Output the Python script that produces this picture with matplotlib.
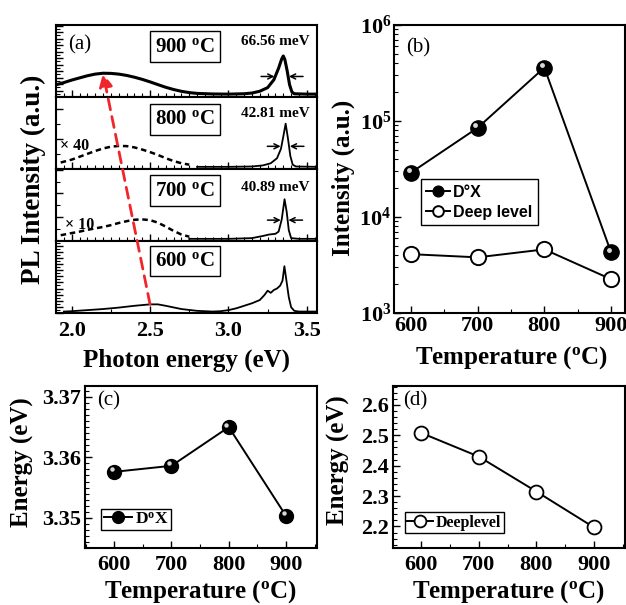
import numpy as np
import matplotlib
matplotlib.use('Agg')
import matplotlib.pyplot as plt
from matplotlib.ticker import MultipleLocator, LogLocator, LogFormatterMathtext, NullFormatter, FormatStrFormatter
from matplotlib.patches import ConnectionPatch
from matplotlib.transforms import offset_copy

plt.rcParams['font.family'] = ['Liberation Serif', 'DejaVu Serif']
plt.rcParams['font.weight'] = 'bold'
plt.rcParams['mathtext.fontset'] = 'custom'
plt.rcParams['mathtext.rm'] = 'Liberation Serif:bold'
plt.rcParams['mathtext.bf'] = 'Liberation Serif:bold'
plt.rcParams['mathtext.it'] = 'Liberation Serif:bold:italic'
plt.rcParams['axes.linewidth'] = 1.5

# ---------------- data ----------------
temps = [600, 700, 800, 900]
temp_labels = ['900 $^{\\mathrm{o}}$C', '800 $^{\\mathrm{o}}$C', '700 $^{\\mathrm{o}}$C', '600 $^{\\mathrm{o}}$C']
fwhm_labels = ['66.56 meV', '42.81 meV', '40.89 meV']
scale_labels = ['\u00d7 40', '\u00d7 10']

intensity_dox = [2.9e4, 8.5e4, 3.6e5, 4.3e3]
intensity_deep = [4.1e3, 3.8e3, 4.6e3, 2.25e3]
energy_dox = [3.3576, 3.3586, 3.3650, 3.3503]
energy_deep = [2.508, 2.430, 2.315, 2.197]

# PL spectra (normalised panel units)
E900 = [1.90, 1.95, 2.00, 2.05, 2.10, 2.15, 2.20, 2.25, 2.30, 2.35, 2.40, 2.45, 2.50, 2.55,
        2.60, 2.65, 2.70, 2.75, 2.80, 2.90, 3.00, 3.10, 3.15, 3.20, 3.25, 3.29, 3.32, 3.34,
        3.35, 3.36, 3.375, 3.39, 3.405, 3.42, 3.50, 3.565]
I900 = [0.17, 0.20, 0.235, 0.265, 0.295, 0.318, 0.33, 0.328, 0.318, 0.30, 0.275, 0.245, 0.21, 0.172,
        0.135, 0.104, 0.079, 0.061, 0.05, 0.042, 0.04, 0.045, 0.055, 0.08, 0.13, 0.24, 0.40, 0.53,
        0.57, 0.52, 0.36, 0.17, 0.07, 0.045, 0.04, 0.04]

E800_deep = [1.93, 2.00, 2.05, 2.10, 2.15, 2.20, 2.25, 2.30, 2.35, 2.40, 2.45, 2.50, 2.55, 2.60, 2.65, 2.70, 2.75]
I800_deep = [0.09, 0.13, 0.17, 0.21, 0.25, 0.285, 0.31, 0.32, 0.318, 0.30, 0.27, 0.235, 0.195, 0.15, 0.11, 0.08, 0.06]
E800 = [2.80, 3.00, 3.15, 3.22, 3.27, 3.31, 3.335, 3.35, 3.365, 3.38, 3.395, 3.41, 3.43, 3.565]
I800 = [0.03, 0.03, 0.035, 0.05, 0.08, 0.15, 0.28, 0.45, 0.63, 0.42, 0.18, 0.06, 0.035, 0.03]

E700_deep = [1.93, 2.00, 2.05, 2.10, 2.15, 2.20, 2.25, 2.30, 2.35, 2.40, 2.45, 2.50, 2.55, 2.60, 2.65, 2.70, 2.75]
I700_deep = [0.08, 0.11, 0.13, 0.155, 0.175, 0.195, 0.22, 0.25, 0.275, 0.295, 0.30, 0.29, 0.255, 0.20, 0.14, 0.09, 0.06]
E700 = [2.75, 3.00, 3.15, 3.22, 3.26, 3.30, 3.32, 3.34, 3.358, 3.372, 3.385, 3.40, 3.45, 3.565]
I700 = [0.03, 0.03, 0.04, 0.07, 0.09, 0.10, 0.13, 0.30, 0.58, 0.40, 0.15, 0.04, 0.03, 0.03]

E600 = [1.95, 2.00, 2.10, 2.20, 2.30, 2.40, 2.50, 2.55, 2.60, 2.70, 2.80, 2.90, 2.95, 3.00, 3.05, 3.10,
        3.15, 3.20, 3.23, 3.25, 3.27, 3.29, 3.31, 3.33, 3.345, 3.357, 3.37, 3.385, 3.40, 3.42, 3.45, 3.565]
I600 = [0.02, 0.025, 0.04, 0.055, 0.075, 0.10, 0.12, 0.12, 0.10, 0.055, 0.03, 0.02, 0.025, 0.04, 0.065, 0.10,
        0.135, 0.18, 0.25, 0.31, 0.28, 0.32, 0.34, 0.38, 0.45, 0.65, 0.45, 0.22, 0.08, 0.03, 0.02, 0.02]

# ---------------- figure ----------------
W, H = 626, 605
fig = plt.figure(figsize=(W / 100, H / 100), dpi=100)

def rect(l, r, t, b):
    return [l / W, 1 - b / H, (r - l) / W, (b - t) / H]

TICK = 16
LAB = 18

# panel (a): four stacked axes
tops = [25, 97, 169, 241]
bots = [97, 169, 241, 313]
axs = [fig.add_axes(rect(56, 317, t, b)) for t, b in zip(tops, bots)]
ax900, ax800, ax700, ax600 = axs
yminor = [0.09, 0.42, 0.33, 0.085]
xminor = [0.05, 0.05, 0.05, 0.25]
for ax, ym, xm in zip(axs, yminor, xminor):
    ax.set_xlim(1.9, 3.565)
    ax.set_ylim(0, 1)
    ax.xaxis.set_major_locator(MultipleLocator(0.5))
    ax.xaxis.set_minor_locator(MultipleLocator(xm))
    ax.yaxis.set_major_locator(MultipleLocator(ym))
    ax.yaxis.set_minor_locator(MultipleLocator(ym / 2))
    ax.set_yticklabels([])
    ax.tick_params(which='both', direction='in', top=False, right=False)
    ax.tick_params(which='major', length=5, width=1.0)
    ax.tick_params(which='minor', length=3, width=0.8)
    if ax is not ax600:
        ax.tick_params(labelbottom=False)
ax600.xaxis.set_major_formatter(FormatStrFormatter('%.1f'))
ax600.tick_params(axis='x', labelsize=TICK, pad=6)

ax900.plot(E900, I900, color='k', lw=2.2)
ax800.plot(E800_deep, I800_deep, color='k', lw=1.8, ls=(0, (2.2, 1.5)))
ax800.plot(E800, I800, color='k', lw=1.3)
ax700.plot(E700_deep, I700_deep, color='k', lw=1.8, ls=(0, (2.2, 1.5)))
ax700.plot(E700, I700, color='k', lw=1.3)
ax600.plot(E600, I600, color='k', lw=1.3)

label_y = [0.70, 0.69, 0.70, 0.72]
for ax, txt, ly in zip(axs, temp_labels, label_y):
    ax.text(0.494, ly, txt, transform=ax.transAxes, ha='center', va='center', fontsize=15,
            fontweight='bold',
            bbox=dict(boxstyle='square,pad=0.25', fc='white', ec='black', lw=1.0))

# FWHM arrows and labels
for ax, E, I, lab, ly in zip([ax900, ax800, ax700], [E900, E800, E700], [I900, I800, I700],
                             fwhm_labels, [0.77, 0.77, 0.74]):
    E = np.asarray(E); I = np.asarray(I)
    m = E > 3.15
    Es, Is = E[m], I[m]
    k = int(np.argmax(Is))
    half = Is[k] / 2
    xl = np.interp(half, Is[:k + 1], Es[:k + 1])
    xr = np.interp(half, Is[k:][::-1], Es[k:][::-1])
    ap = dict(arrowstyle='->', lw=1.1, color='k', shrinkA=0, shrinkB=0, mutation_scale=9)
    ax.annotate('', xy=(xl - 0.005, half), xytext=(xl - 0.09, half), arrowprops=ap)
    ax.annotate('', xy=(xr + 0.005, half), xytext=(xr + 0.095, half), arrowprops=ap)
    ax.text(0.84, ly, lab, transform=ax.transAxes, ha='center', va='center', fontsize=11, fontweight='bold')

ax800.text(0.015, 0.32, scale_labels[0], transform=ax800.transAxes, ha='left', va='center', fontsize=11.5, fontweight='bold')
ax700.text(0.035, 0.225, scale_labels[1], transform=ax700.transAxes, ha='left', va='center', fontsize=11.5, fontweight='bold')
ax900.text(0.046, 0.72, '(a)', transform=ax900.transAxes, ha='left', va='center', fontsize=15, fontweight='normal')

# red arrow linking deep-level peaks
def deep_peak(E, I):
    E = np.asarray(E); I = np.asarray(I)
    m = E < 2.9
    k = int(np.argmax(I[m]))
    return E[m][k], I[m][k]

p600 = deep_peak(E600, I600)
p900 = deep_peak(E900, I900)
con = ConnectionPatch(xyA=p600, coordsA=ax600.transData, xyB=p900, coordsB=ax900.transData,
                      arrowstyle='-|>', color='#f0262a', lw=2.0, ls=(0, (4, 2.5)),
                      mutation_scale=20, shrinkA=0, shrinkB=0, zorder=10)
fig.add_artist(con)

ax600.set_xlabel('Photon energy (eV)', fontsize=LAB, fontweight='bold', va='center')
ax600.xaxis.set_label_coords(0.5, -0.65)
ax900.set_ylabel('PL Intensity (a.u.)', fontsize=19.5, fontweight='bold', va='center')
ax900.yaxis.set_label_coords(-0.088, -1.15)

# panel (b)
axb = fig.add_axes(rect(394, 625, 25, 313))
axb.set_yscale('log')
axb.set_xlim(574.5, 921)
axb.set_ylim(1e3, 1e6)
axb.plot(temps, intensity_dox, '-', color='k', lw=1.4, marker='o', ms=11, mfc='k', mec='k', label='D\u00b0X', zorder=3)
axb.plot(temps, intensity_dox, 'o', ms=3.5, color='#d8d8d8', mec='none', zorder=4,
         transform=offset_copy(axb.transData, fig=fig, x=-2.5, y=2.5, units='dots'))
axb.plot(temps, intensity_deep, '-', color='k', lw=1.4, marker='o', ms=11, mfc='white', mec='k', mew=1.4,
         label='Deep level', zorder=3)
axb.xaxis.set_major_locator(MultipleLocator(100))
axb.xaxis.set_minor_locator(MultipleLocator(50))
axb.yaxis.set_major_locator(LogLocator(base=10))
axb.yaxis.set_major_formatter(LogFormatterMathtext())
axb.yaxis.set_minor_locator(LogLocator(base=10, subs=np.arange(2, 10)))
axb.yaxis.set_minor_formatter(NullFormatter())
axb.tick_params(which='both', direction='in', top=False, right=False, labelsize=TICK)
axb.tick_params(which='major', length=5, width=1.0)
axb.tick_params(which='minor', length=3, width=0.8)
axb.tick_params(axis='x', pad=2)
axb.tick_params(axis='y', pad=2)
leg = axb.legend(loc='lower left', bbox_to_anchor=(0.115, 0.305), frameon=True, fancybox=False,
                 edgecolor='black', framealpha=1, prop=dict(family='Liberation Sans', weight='bold', size=11.5),
                 handlelength=1.5, handletextpad=0.2, borderpad=0.35, labelspacing=0.3, markerscale=0.7,
                 borderaxespad=0)
leg.get_frame().set_linewidth(1.0)
axb.text(0.052, 0.92, '(b)', transform=axb.transAxes, ha='left', va='center', fontsize=15, fontweight='normal')
axb.set_xlabel('Temperature ($^{\\mathrm{o}}$C)', fontsize=LAB, fontweight='bold', va='center')
axb.xaxis.set_label_coords(0.51, -0.156)
axb.set_ylabel('Intensity (a.u.)', fontsize=LAB, fontweight='bold', va='center')
axb.yaxis.set_label_coords(-0.22, 0.47)

# panel (c)
axc = fig.add_axes(rect(85, 317, 386, 548))
axc.set_xlim(549, 954)
axc.set_ylim(3.345, 3.3718)
axc.plot(temps, energy_dox, '-', color='k', lw=1.4, marker='o', ms=10, mfc='k', mec='k',
         label='D$^{\\mathrm{o}}$X', zorder=3)
axc.plot(temps, energy_dox, 'o', ms=3.2, color='#d8d8d8', mec='none', zorder=4,
         transform=offset_copy(axc.transData, fig=fig, x=-2.5, y=2.5, units='dots'))
axc.xaxis.set_major_locator(MultipleLocator(100))
axc.xaxis.set_minor_locator(MultipleLocator(50))
axc.yaxis.set_major_locator(MultipleLocator(0.01))
axc.yaxis.set_minor_locator(MultipleLocator(0.001))
axc.yaxis.set_major_formatter(FormatStrFormatter('%.2f'))
axc.tick_params(which='both', direction='in', top=False, right=False, labelsize=TICK)
axc.tick_params(which='major', length=5, width=1.0)
axc.tick_params(which='minor', length=3, width=0.8)
axc.tick_params(axis='x', pad=5)
axc.tick_params(axis='y', pad=3)
legc = axc.legend(loc='lower left', bbox_to_anchor=(0.07, 0.11), frameon=True, fancybox=False,
                  edgecolor='black', framealpha=1, prop=dict(weight='bold', size=12.5),
                  handlelength=1.6, handletextpad=0.2, borderpad=0.15, markerscale=0.85, borderaxespad=0)
legc.get_frame().set_linewidth(1.0)
axc.text(0.052, 0.907, '(c)', transform=axc.transAxes, ha='left', va='center', fontsize=15, fontweight='normal')
axc.set_xlabel('Temperature ($^{\\mathrm{o}}$C)', fontsize=LAB, fontweight='bold', va='center')
axc.xaxis.set_label_coords(0.5, -0.27)
axc.set_ylabel('Energy (eV)', fontsize=LAB, fontweight='bold', va='center')
axc.yaxis.set_label_coords(-0.27, 0.53)

# panel (d)
axd = fig.add_axes(rect(393, 625, 386, 548))
axd.set_xlim(551, 954)
axd.set_ylim(2.129, 2.6625)
axd.plot(temps, energy_deep, '-', color='k', lw=1.4, marker='o', ms=10, mfc='white', mec='k', mew=1.3,
         label='Deeplevel', zorder=3)
axd.xaxis.set_major_locator(MultipleLocator(100))
axd.xaxis.set_minor_locator(MultipleLocator(50))
axd.yaxis.set_major_locator(MultipleLocator(0.1))
axd.yaxis.set_minor_locator(MultipleLocator(0.02))
axd.yaxis.set_major_formatter(FormatStrFormatter('%.1f'))
axd.tick_params(which='both', direction='in', top=False, right=False, labelsize=TICK)
axd.tick_params(which='major', length=5, width=1.0)
axd.tick_params(which='minor', length=3, width=0.8)
axd.tick_params(axis='x', pad=5)
axd.tick_params(axis='y', pad=3)
legd = axd.legend(loc='lower left', bbox_to_anchor=(0.05, 0.093), frameon=True, fancybox=False,
                  edgecolor='black', framealpha=1, prop=dict(weight='bold', size=11.5),
                  handlelength=1.6, handletextpad=0.2, borderpad=0.15, markerscale=0.85, borderaxespad=0)
legd.get_frame().set_linewidth(1.0)
axd.text(0.043, 0.907, '(d)', transform=axd.transAxes, ha='left', va='center', fontsize=15, fontweight='normal')
axd.set_xlabel('Temperature ($^{\\mathrm{o}}$C)', fontsize=LAB, fontweight='bold', va='center')
axd.xaxis.set_label_coords(0.5, -0.27)
axd.set_ylabel('Energy (eV)', fontsize=LAB, fontweight='bold', va='center')
axd.yaxis.set_label_coords(-0.237, 0.54)

fig.savefig('out.png', dpi=100)
